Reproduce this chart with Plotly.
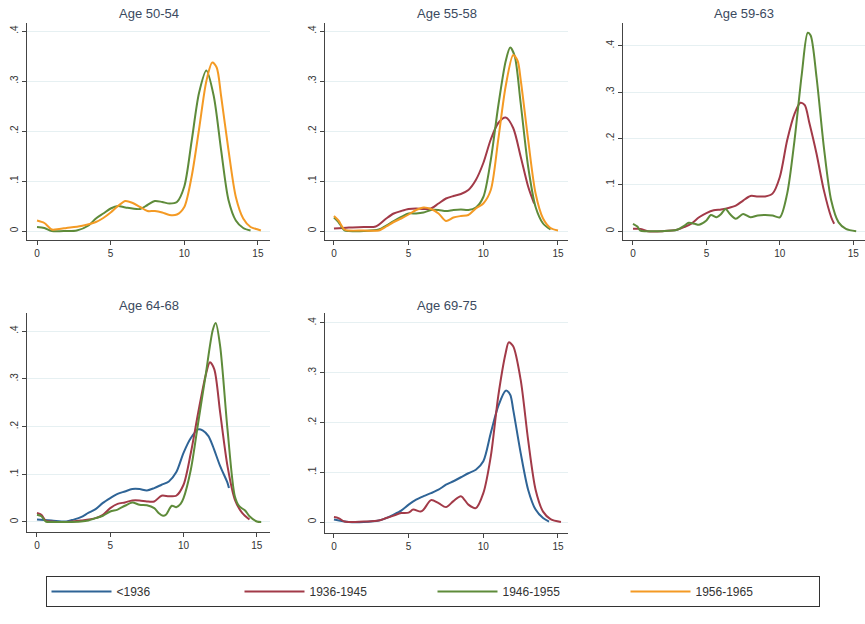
import plotly.graph_objects as go

# ---------------- data ----------------
series_names = ["<1936", "1936-1945", "1946-1955", "1956-1965"]
series_colors = ["#2F6496", "#A23A48", "#5E8B3A", "#F49A24"]
panel_titles = ["Age 50-54", "Age 55-58", "Age 59-63", "Age 64-68", "Age 69-75"]
x_ticks = [0, 5, 10, 15]
y_ticks = [0, 0.1, 0.2, 0.3, 0.4]
y_ticktext = ["0", ".1", ".2", ".3", ".4"]

# Age 50-54
p1_g_x = [0, 0.5, 1, 2, 2.7, 3.5, 4, 4.5, 5, 5.5, 6, 7, 7.5, 8, 8.5, 9, 9.5, 10, 10.5, 11, 11.5, 12, 12.5, 13, 13.5, 14, 14.5]
p1_g_y = [0.008, 0.006, 0.0, 0.0, 0.001, 0.011, 0.025, 0.035, 0.045, 0.05, 0.047, 0.044, 0.052, 0.06, 0.058, 0.055, 0.058, 0.089, 0.18, 0.276, 0.321, 0.27, 0.162, 0.062, 0.021, 0.006, 0.001]
p1_o_x = [0, 0.5, 1, 1.5, 2, 3, 4, 4.5, 5, 5.5, 6, 6.5, 7, 7.5, 8, 8.5, 9, 9.5, 10, 10.5, 11, 11.5, 11.9, 12.2, 12.5, 13, 13.5, 14, 14.5, 15, 15.2]
p1_o_y = [0.021, 0.016, 0.003, 0.004, 0.006, 0.01, 0.018, 0.026, 0.037, 0.05, 0.06, 0.056, 0.048, 0.04, 0.04, 0.037, 0.032, 0.033, 0.048, 0.109, 0.203, 0.3, 0.337, 0.327, 0.27, 0.162, 0.068, 0.025, 0.008, 0.003, 0.001]

# Age 55-58
p2_r_x = [0, 1, 2, 2.8, 3.5, 4, 4.5, 5, 5.5, 6, 6.5, 7, 7.5, 8, 8.5, 9, 9.5, 10, 10.5, 11, 11.5, 12, 12.5, 13, 13.4]
p2_r_y = [0.005, 0.007, 0.008, 0.009, 0.025, 0.035, 0.04, 0.044, 0.045, 0.044, 0.045, 0.055, 0.065, 0.07, 0.074, 0.082, 0.102, 0.136, 0.183, 0.216, 0.227, 0.206, 0.149, 0.089, 0.055]
p2_g_x = [0, 0.3, 0.7, 1, 2, 3, 3.5, 4, 4.5, 5, 5.5, 6, 6.5, 7, 7.5, 8, 8.5, 9, 9.5, 10, 10.5, 11, 11.5, 11.8, 12.1, 12.5, 13, 13.5, 14, 14.5]
p2_g_y = [0.027, 0.018, 0.001, 0.0, 0.0, 0.003, 0.011, 0.02, 0.028, 0.035, 0.035, 0.037, 0.042, 0.042, 0.04, 0.042, 0.043, 0.042, 0.047, 0.068, 0.142, 0.25, 0.34, 0.367, 0.35, 0.256, 0.129, 0.048, 0.015, 0.003]
p2_o_x = [0, 0.3, 0.7, 1, 2, 3, 3.5, 4, 4.5, 5, 5.5, 6, 6.5, 7, 7.5, 8, 8.5, 9, 9.5, 10, 10.5, 11, 11.5, 12, 12.3, 12.5, 13, 13.5, 14, 14.5, 15]
p2_o_y = [0.03, 0.021, 0.003, 0.001, 0.001, 0.001, 0.009, 0.018, 0.025, 0.033, 0.042, 0.047, 0.044, 0.035, 0.02, 0.027, 0.03, 0.032, 0.045, 0.055, 0.082, 0.183, 0.29, 0.352, 0.34, 0.303, 0.183, 0.075, 0.025, 0.006, 0.001]

# Age 59-63
p3_r_x = [0, 0.5, 1, 2, 3, 3.5, 4, 4.5, 5, 5.5, 6, 6.5, 7, 7.5, 8, 8.5, 9, 9.5, 10, 10.5, 11, 11.4, 11.7, 12, 12.5, 13, 13.5, 13.7]
p3_r_y = [0.005, 0.005, 0.0, 0.0, 0.003, 0.009, 0.017, 0.03, 0.039, 0.045, 0.047, 0.05, 0.055, 0.066, 0.076, 0.075, 0.075, 0.081, 0.117, 0.196, 0.253, 0.277, 0.272, 0.235, 0.167, 0.088, 0.03, 0.016]
p3_g_x = [0, 0.3, 0.5, 1, 2, 3, 3.5, 3.8, 4.2, 4.5, 5, 5.3, 5.7, 6, 6.3, 6.6, 7, 7.5, 8, 8.5, 9, 9.5, 10, 10.5, 11, 11.5, 11.9, 12.1, 12.5, 13, 13.5, 14, 14.5, 15.2]
p3_g_y = [0.016, 0.01, 0.001, 0.0, 0.0, 0.003, 0.012, 0.018, 0.016, 0.014, 0.023, 0.035, 0.03, 0.037, 0.048, 0.037, 0.027, 0.037, 0.03, 0.034, 0.035, 0.034, 0.03, 0.081, 0.196, 0.34, 0.428, 0.422, 0.332, 0.181, 0.066, 0.019, 0.005, 0.0]

# Age 64-68
p4_b_x = [0, 1, 2, 2.5, 3, 3.5, 4, 4.5, 5, 5.5, 6, 6.5, 7, 7.5, 8, 8.5, 9, 9.5, 10, 10.5, 11, 11.3, 11.7, 12, 12.5, 13, 13.1]
p4_b_y = [0.005, 0.003, 0.001, 0.005, 0.01, 0.019, 0.027, 0.04, 0.05, 0.059, 0.064, 0.069, 0.069, 0.066, 0.071, 0.078, 0.085, 0.104, 0.145, 0.176, 0.194, 0.192, 0.18, 0.159, 0.117, 0.082, 0.071]
p4_r_x = [0, 0.3, 0.6, 1, 2, 3, 4, 4.5, 5, 5.5, 6, 6.5, 7, 7.5, 8, 8.5, 9, 9.5, 10, 10.5, 11, 11.5, 11.8, 12.1, 12.5, 13, 13.5, 14, 14.5]
p4_r_y = [0.019, 0.015, 0.003, 0.001, 0.0, 0.003, 0.008, 0.015, 0.029, 0.038, 0.041, 0.045, 0.045, 0.043, 0.043, 0.055, 0.054, 0.055, 0.078, 0.145, 0.229, 0.306, 0.335, 0.32, 0.229, 0.117, 0.047, 0.019, 0.005]
p4_g_x = [0, 0.3, 0.6, 1, 2, 3, 3.5, 4, 4.5, 5, 5.5, 6, 6.5, 7, 7.5, 8, 8.3, 8.6, 8.8, 9.2, 9.5, 9.8, 10, 10.5, 11, 11.5, 12, 12.2, 12.5, 13, 13.5, 13.8, 14.2, 14.5, 15, 15.3]
p4_g_y = [0.015, 0.012, 0.001, 0.0, 0.0, 0.001, 0.003, 0.008, 0.013, 0.022, 0.026, 0.034, 0.041, 0.036, 0.035, 0.029, 0.019, 0.013, 0.015, 0.034, 0.031, 0.038, 0.05, 0.11, 0.208, 0.306, 0.403, 0.417, 0.368, 0.194, 0.054, 0.033, 0.024, 0.012, 0.001, 0.0]

# Age 69-75
p5_b_x = [0, 1, 2, 3, 3.5, 4, 4.5, 5, 5.5, 6, 6.5, 7, 7.5, 8, 8.5, 9, 9.5, 10, 10.5, 11, 11.5, 11.8, 12, 12.5, 13, 13.5, 14, 14.4]
p5_b_y = [0.005, 0.0, 0.0, 0.003, 0.008, 0.015, 0.023, 0.035, 0.045, 0.052, 0.058, 0.065, 0.075, 0.082, 0.09, 0.098, 0.105, 0.122, 0.179, 0.233, 0.264, 0.256, 0.226, 0.139, 0.065, 0.025, 0.008, 0.001]
p5_r_x = [0, 0.3, 0.7, 1, 2, 3, 3.5, 4, 4.5, 5, 5.3, 5.8, 6, 6.5, 7, 7.5, 8, 8.5, 9, 9.5, 10, 10.5, 11, 11.5, 11.7, 12, 12.5, 13, 13.5, 14, 14.5, 15.2]
p5_r_y = [0.01, 0.008, 0.001, 0.0, 0.001, 0.003, 0.008, 0.013, 0.018, 0.019, 0.025, 0.021, 0.025, 0.044, 0.038, 0.03, 0.042, 0.052, 0.035, 0.028, 0.058, 0.132, 0.253, 0.34, 0.361, 0.353, 0.286, 0.165, 0.065, 0.021, 0.006, 0.0]

panels = [
    [(2, p1_g_x, p1_g_y), (3, p1_o_x, p1_o_y)],
    [(1, p2_r_x, p2_r_y), (2, p2_g_x, p2_g_y), (3, p2_o_x, p2_o_y)],
    [(1, p3_r_x, p3_r_y), (2, p3_g_x, p3_g_y)],
    [(0, p4_b_x, p4_b_y), (1, p4_r_x, p4_r_y), (2, p4_g_x, p4_g_y)],
    [(0, p5_b_x, p5_b_y), (1, p5_r_x, p5_r_y)],
]

# ---------------- layout geometry (pixels) ----------------
W, H = 865, 624
# (left, right, top, bottom, xmin, xmax, ymin, ymax)
geom = [
    (27, 270, 23, 240, -0.68, 15.82, -0.018, 0.416),
    (325, 568, 23, 240, -0.60, 15.67, -0.018, 0.416),
    (623, 865, 23, 240, -0.68, 15.80, -0.019, 0.449),
    (27, 270, 313, 532, -0.68, 15.90, -0.021, 0.438),
    (325, 568, 313, 533, -0.60, 15.67, -0.022, 0.42),
]

fig = go.Figure()
shown = set()
for i, traces in enumerate(panels):
    ax = "" if i == 0 else str(i + 1)
    for (si, xs, ys) in traces:
        fig.add_trace(go.Scatter(
            x=xs, y=ys, mode="lines", line=dict(color=series_colors[si], width=2, shape="spline", smoothing=0.8),
            name=series_names[si], legendgroup=series_names[si], legendrank=si + 1,
            showlegend=si not in shown, xaxis="x" + ax, yaxis="y" + ax, hoverinfo="skip"))
        shown.add(si)

axis_font = dict(family="Liberation Sans, Arial, sans-serif", size=10, color="#333333")
for i, (l, r, t, b, x0, x1, y0, y1) in enumerate(geom):
    ax = "" if i == 0 else str(i + 1)
    fig.layout["xaxis" + ax] = dict(
        domain=[l / W, min(r / W, 1)], range=[x0, x1], anchor="y" + ax,
        tickvals=x_ticks, showgrid=False, zeroline=False, showline=True, linecolor="#444444", linewidth=1,
        ticks="outside", ticklen=4, tickcolor="#444444", tickfont=axis_font, fixedrange=True)
    fig.layout["yaxis" + ax] = dict(
        domain=[1 - b / H, 1 - t / H], range=[y0, y1], anchor="x" + ax,
        tickvals=y_ticks, ticktext=y_ticktext, tickangle=-90,
        showgrid=True, gridcolor="#E6F0F2", gridwidth=1, zeroline=False,
        showline=True, linecolor="#444444", linewidth=1,
        ticks="outside", ticklen=4, tickcolor="#444444", tickfont=axis_font, fixedrange=True)
    fig.add_annotation(text=panel_titles[i], xref="paper", yref="paper",
                       x=(l + min(r, 865)) / 2 / W, y=1 - (13 if i < 3 else 305) / H,
                       showarrow=False, xanchor="center", yanchor="middle",
                       font=dict(family="Liberation Sans, Arial, sans-serif", size=13, color="#3B4A60"))

fig.update_layout(
    width=W, height=H, margin=dict(l=0, r=0, t=0, b=0),
    paper_bgcolor="white", plot_bgcolor="white",
    font=dict(family="Liberation Sans, Arial, sans-serif", size=12, color="#333333"),
    legend=dict(orientation="h", x=0.5, xanchor="center", y=1 - 576 / H, yanchor="top",
                bordercolor="#333333", borderwidth=1, entrywidth=118, entrywidthmode="pixels",
                itemwidth=60, font=dict(size=12, color="#333333"), traceorder="normal",
                tracegroupgap=0),
    showlegend=True,
)

fig.write_html("out.html")
